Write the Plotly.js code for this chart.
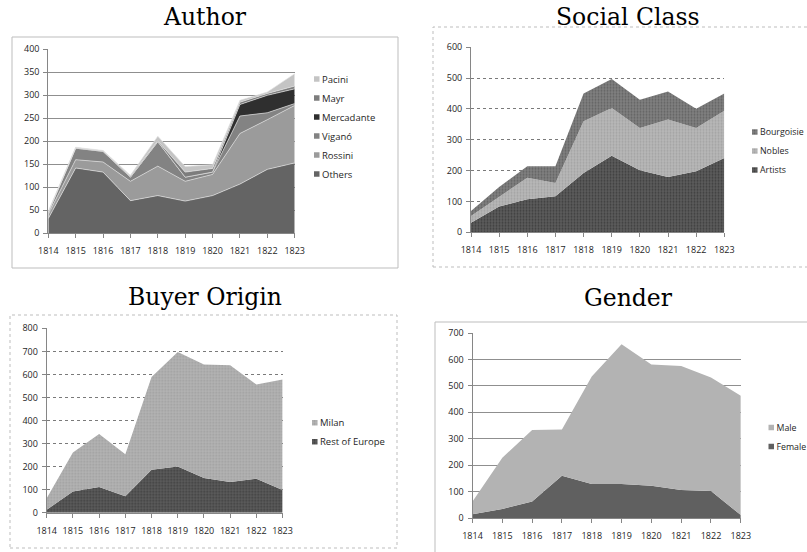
<!DOCTYPE html>
<html>
<head>
<meta charset="utf-8">
<script src="https://cdn.plot.ly/plotly-3.0.1.min.js"></script>
<style>
html,body{margin:0;padding:0;background:#fff;}
#chart{width:807px;height:552px;}
</style>
</head>
<body>
<div id="chart"></div>
<script>
// ---------- data ----------
const years = ['1814','1815','1816','1817','1818','1819','1820','1821','1822','1823'];

// Author
const authorOthers     = [32, 142, 133, 71, 82, 70, 82, 107, 139, 153];
const authorRossini    = [9, 18, 22, 42, 64, 43, 46, 110, 108, 125];
const authorVigano     = [4, 25, 23, 9, 53, 9, 5, 38, 15, 4];
const authorMercadante = [0, 0, 0, 0, 0, 0, 0, 25, 38, 32];
const authorMayr       = [1, 1, 1, 2, 2, 11, 8, 5, 4, 6];
const authorPacini     = [2, 1, 1, 2, 10, 12, 8, 4, 3, 27];

// Social class
const classArtists    = [31, 84, 107, 117, 192, 248, 201, 179, 198, 241];
const classNobles     = [22, 31, 70, 43, 168, 155, 137, 187, 140, 153];
const classBourgoisie = [16, 32, 37, 54, 90, 94, 92, 91, 63, 56];

// Buyer origin
const originRestOfEurope = [13, 92, 111, 71, 186, 200, 150, 133, 147, 99];
const originMilan        = [50, 169, 230, 183, 403, 497, 493, 507, 409, 479];

// Gender
const genderFemale = [14, 34, 62, 160, 129, 129, 122, 106, 102, 11];
const genderMale   = [48, 194, 271, 175, 406, 528, 459, 469, 430, 452];

const panelTitles = ['Author', 'Social Class', 'Buyer Origin', 'Gender'];

// ---------- helpers ----------
const W = 807, H = 552;
const px = v => v / W;
const py = v => 1 - v / H;

function area(y, name, n, color, opts) {
  opts = opts || {};
  const t = {
    type: 'scatter', mode: 'lines', x: years, y: y, name: name,
    xaxis: n === 1 ? 'x' : 'x' + n, yaxis: n === 1 ? 'y' : 'y' + n,
    stackgroup: 'g' + n, legend: n === 1 ? 'legend' : 'legend' + n,
    fillcolor: color,
    line: opts.line || {width: 0, color: color},
    hoverinfo: 'skip'
  };
  if (opts.pattern) t.fillpattern = opts.pattern;
  return t;
}
const authLine = {width: 0.8, color: 'rgba(225,225,225,0.85)'};
const dots = (bg, fg) => ({shape: '.', bgcolor: bg, fgcolor: fg, size: 3, solidity: 0.35});

const data = [
  area(authorOthers, 'Others', 1, '#646464', {line: authLine}),
  area(authorRossini, 'Rossini', 1, '#9b9b9b', {line: authLine}),
  area(authorVigano, 'Viganó', 1, '#838383', {line: authLine}),
  area(authorMercadante, 'Mercadante', 1, '#2f2f2f', {line: authLine}),
  area(authorMayr, 'Mayr', 1, '#7d7d7d', {line: authLine}),
  area(authorPacini, 'Pacini', 1, '#c4c4c4', {line: authLine}),

  area(classArtists, 'Artists', 2, '#575757', {pattern: dots('#5c5c5c', '#3e3e3e')}),
  area(classNobles, 'Nobles', 2, '#b4b4b4', {pattern: dots('#b8b8b8', '#a2a2a2')}),
  area(classBourgoisie, 'Bourgoisie', 2, '#7b7b7b', {pattern: dots('#808080', '#626262')}),

  area(originRestOfEurope, 'Rest of Europe', 3, '#585858', {pattern: dots('#5c5c5c', '#3e3e3e')}),
  area(originMilan, 'Milan', 3, '#b0b0b0', {pattern: dots('#b4b4b4', '#9e9e9e')}),

  area(genderFemale, 'Female', 4, '#606060'),
  area(genderMale, 'Male', 4, '#b3b3b3')
];

const tickFont = {family: 'Open Sans, sans-serif', size: 9, color: '#1e1e1e'};
const axisCol = '#868686';
function xax(d0, d1, anchor) {
  return {domain: [px(d0), px(d1)], anchor: anchor, type: 'category', range: [0, 9],
    showgrid: false, zeroline: false, showline: true, linecolor: axisCol, linewidth: 1,
    ticks: 'outside', ticklen: 4, tickcolor: axisCol, tickfont: tickFont,
    ticklabelstandoff: 5, fixedrange: true};
}
function yax(top, bottom, anchor, max, dtick, dash) {
  return {domain: [py(bottom), py(top)], anchor: anchor, range: [0, max], dtick: dtick,
    showgrid: true, gridcolor: dash ? '#7a7a7a' : '#8f8f8f', gridwidth: 1, griddash: dash ? 'dot' : 'solid',
    zeroline: false, showline: true, linecolor: axisCol, linewidth: 1,
    ticks: 'outside', ticklen: 4, tickcolor: axisCol, tickfont: tickFont,
    ticklabelstandoff: 2, fixedrange: true};
}
// legend targets: [x of first text glyph, y centre of top row, font size]
const legendTargets = {
  legend:  [322, 79, 9.5],
  legend2: [760, 132.3, 8.8],
  legend3: [320, 422.7, 9.5],
  legend4: [776.5, 427.7, 8.8]
};
function leg(key) {
  const t = legendTargets[key];
  return {x: px(t[0] - 40), y: py(t[1] - 10), xanchor: 'left', yanchor: 'top',
    traceorder: 'reversed', font: {family: 'Open Sans, sans-serif', size: t[2], color: '#1e1e1e'},
    bgcolor: 'rgba(0,0,0,0)', borderwidth: 0,
    itemclick: false, itemdoubleclick: false};
}
function box(x0, y0, x1, y1, dash) {
  return {type: 'rect', xref: 'paper', yref: 'paper', x0: px(x0), x1: px(x1), y0: py(y1), y1: py(y0),
    line: {color: '#bdbdbd', width: 1, dash: dash ? 'dot' : 'solid'}, fillcolor: 'rgba(0,0,0,0)', layer: 'below'};
}
function title(text, cx, cy) {
  return {text: text, x: px(cx), y: py(cy), xref: 'paper', yref: 'paper', xanchor: 'center', yanchor: 'middle',
    showarrow: false, font: {family: 'DejaVu Serif, serif', size: 23.5, color: '#000'}};
}

const layout = {
  width: W, height: H, margin: {l: 0, r: 0, t: 0, b: 0, autoexpand: false},
  paper_bgcolor: '#fff', plot_bgcolor: 'rgba(0,0,0,0)',
  showlegend: true,
  xaxis: xax(48.3, 294.7, 'y'),
  yaxis: yax(49.3, 233.3, 'x', 400, 50),
  xaxis2: xax(471, 724.3, 'y2'),
  yaxis2: yax(47.3, 232.3, 'x2', 600, 100, true),
  xaxis3: xax(46.7, 282.6, 'y3'),
  yaxis3: yax(328.3, 512.7, 'x3', 800, 100, true),
  xaxis4: xax(472.5, 740.8, 'y4'),
  yaxis4: yax(333, 518, 'x4', 700, 100),
  legend: leg('legend'),
  legend2: leg('legend2'),
  legend3: leg('legend3'),
  legend4: leg('legend4'),
  shapes: [
    box(12, 37, 398, 268),
    box(433, 27, 830, 267, true),
    box(10, 315, 397, 548, true),
    box(435, 322, 830, 600)
  ],
  annotations: [
    title(panelTitles[0], 205, 17),
    title(panelTitles[1], 628, 17),
    title(panelTitles[2], 205, 297),
    title(panelTitles[3], 628, 298)
  ]
};

function finishLegends(gd) {
  // Excel-style small square legend swatches
  gd.querySelectorAll('.legendfill path').forEach(function (p) {
    p.setAttribute('d', 'M32,-2.5h5.5v5.5h-5.5z');
  });
  gd.querySelectorAll('.legendlines path').forEach(function (p) { p.style.display = 'none'; });
  // place each legend exactly (Plotly keeps legends inside the paper; the reference lets them reach the edge)
  const root = gd.getBoundingClientRect();
  Object.keys(legendTargets).forEach(function (k) {
    const tgt = legendTargets[k];
    const g = gd.querySelector('.infolayer > .' + k);
    if (!g) return;
    let best = null;
    g.querySelectorAll('text').forEach(function (t) {
      if (!(t.textContent || '').trim()) return;
      const r = t.getBoundingClientRect();
      if (r.width === 0) return;
      if (!best || r.top < best.top) best = r;
    });
    if (!best) return;
    const dx = tgt[0] - (best.left - root.left);
    const dy = tgt[1] - (best.top - root.top + best.height / 2);
    if (Math.abs(dx) < 0.2 && Math.abs(dy) < 0.2) return;
    const tf = g.getAttribute('transform') || '';
    const m = /translate\(\s*([-\d.e]+)[ ,]+([-\d.e]+)\s*\)/.exec(tf);
    const x0 = m ? parseFloat(m[1]) : 0, y0 = m ? parseFloat(m[2]) : 0;
    g.setAttribute('transform', 'translate(' + (x0 + dx) + ',' + (y0 + dy) + ')');
  });
}

Plotly.newPlot('chart', data, layout, {staticPlot: true, displayModeBar: false}).then(function (gd) {
  finishLegends(gd);
  setTimeout(function () { finishLegends(gd); }, 30);
  setTimeout(function () { finishLegends(gd); }, 150);
});
</script>
</body>
</html>
